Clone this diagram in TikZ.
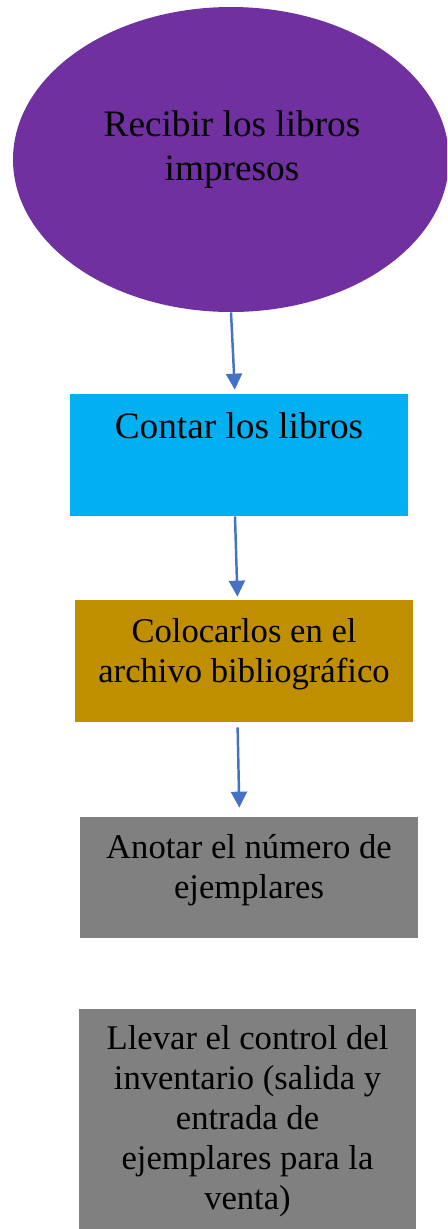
\documentclass[tikz,border=0pt]{standalone}
\usepackage{fontspec}
\setmainfont{Liberation Serif}
\usepackage{tikz}
\usetikzlibrary{arrows.meta,shapes.geometric}
\definecolor{morado}{HTML}{7030A0}
\definecolor{celeste}{HTML}{00B0F0}
\definecolor{dorado}{HTML}{BF8F00}
\definecolor{gris}{HTML}{808080}
\definecolor{azul}{HTML}{4472C4}
\tikzset{
	caja/.style={rectangle, inner sep=0, minimum width=6.76cm, minimum height=2.44cm},
	texto/.style={anchor=base, align=center, inner sep=0, font=\fontsize{21.2}{24.6}\selectfont},
	textochico/.style={texto, font=\fontsize{19.7}{22.8}\selectfont},
	flecha/.style={draw=azul, line width=1.4pt, -{Triangle[length=0.32cm, width=0.32cm]}}
}

\begin{document}
\begin{tikzpicture}
		%%%%% START %%%%%
		
		\clip (0, 0) rectangle (8.94, -24.58);
		
		\node[ellipse, fill=morado, inner sep=0, minimum width=8.72cm, minimum height=6.1cm] (recibir) at (4.62, -3.19) {};
		\node[texto] (recibirtxt) at ([xshift=0.02cm, yshift=-0.41cm]recibir.center) {Recibir los libros\\impresos};
		
		\node[caja, fill=celeste] (contar) at (4.78, -9.10) {};
		\node[texto] (contartxt) at ([yshift=-0.9cm]contar.north) {Contar los libros};
		
		\node[caja, fill=dorado] (colocar) at (4.88, -13.22) {};
		\node[textochico] (colocartxt) at ([yshift=-1.66cm]colocar.north) {Colocarlos en el\\archivo bibliográfico};
		
		\node[caja, fill=gris, minimum height=2.42cm] (anotar) at (4.98, -17.55) {};
		\node[textochico] (anotartxt) at ([yshift=-1.64cm]anotar.north) {Anotar el número de\\ejemplares};
		
		\node[caja, fill=gris, minimum width=6.74cm, minimum height=4.46cm] (llevar) at (4.95, -22.41) {};
		\node[textochico] (llevartxt) at ([yshift=-4.02cm]llevar.north) {Llevar el control del\\inventario (salida y\\entrada de\\ejemplares para la\\venta)};
		
		\draw[flecha, shorten >=0.08cm] (recibir.south) -- ([xshift=-0.08cm]contar.north);
		\draw[flecha, shorten >=0.06cm] ([xshift=-0.08cm]contar.south) -- ([xshift=-0.13cm]colocar.north);
		\draw[flecha, shorten <=0.1cm, shorten >=0.18cm] ([xshift=-0.13cm]colocar.south) -- ([xshift=-0.19cm]anotar.north);
		
		%%%%% END %%%%%
	\end{tikzpicture}
\end{document}
